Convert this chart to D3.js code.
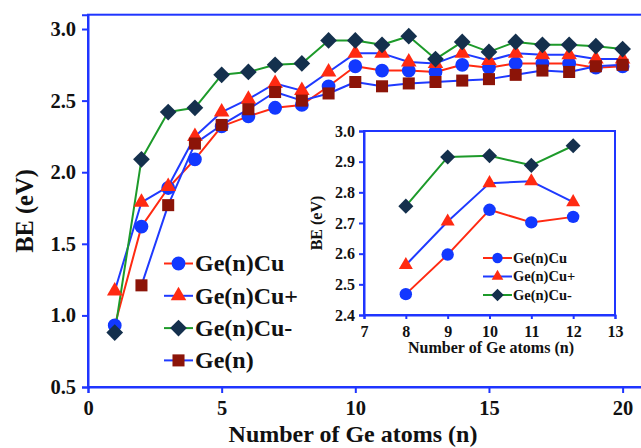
<!DOCTYPE html>
<html>
<head>
<meta charset="utf-8">
<script src="https://cdn.jsdelivr.net/npm/d3@7"></script>
<style>
  html, body { margin: 0; padding: 0; background: #fff; }
  svg { display: block; }
  svg text { font-family: "Liberation Serif", Tinos, "Times New Roman", Times, "DejaVu Serif", serif !important; font-weight: bold; fill: #111; }
</style>
</head>
<body>
<svg id="chart" width="641" height="448"></svg>
<script>
// ---- Binding energies (eV) vs number of Ge atoms ----
const nAll = [1,2,3,4,5,6,7,8,9,10,11,12,13,14,15,16,17,18,19,20];
const geCu      = [0.93,1.62,1.89,2.09,2.32,2.39,2.45,2.47,2.60,2.74,2.71,2.71,2.70,2.75,2.73,2.76,2.76,2.76,2.73,2.74];
const geCuPlus  = [1.17,1.79,1.90,2.25,2.42,2.51,2.62,2.57,2.70,2.83,2.83,2.77,2.76,2.83,2.78,2.83,2.82,2.82,2.79,2.79];
const geCuMinus = [0.88,2.09,2.42,2.45,2.68,2.70,2.75,2.76,2.92,2.92,2.89,2.95,2.79,2.91,2.84,2.91,2.89,2.89,2.88,2.86];
const nGe = [2,3,4,5,6,7,8,9,10,11,12,13,14,15,16,17,18,19,20];
const geN       = [1.21,1.77,2.20,2.33,2.44,2.56,2.50,2.55,2.63,2.60,2.62,2.63,2.64,2.65,2.68,2.71,2.70,2.74,2.75];

// zoomed range n = 8..12
const nInset = [8,9,10,11,12];
const insetGeCu      = [2.468,2.597,2.743,2.702,2.720];
const insetGeCuPlus  = [2.563,2.705,2.830,2.836,2.768];
const insetGeCuMinus = [2.755,2.915,2.919,2.888,2.952];

const mainXTicks = [0,5,10,15,20];
const mainYTicks = [0.5,1.0,1.5,2.0,2.5,3.0];
const insetXTicks = [7,8,9,10,11,12,13];
const insetYTicks = [2.4,2.5,2.6,2.7,2.8,2.9,3.0];

const seriesNames = ["Ge(n)Cu","Ge(n)Cu+","Ge(n)Cu-","Ge(n)"];

// ---- styles ----
const FRAME = "#1f35ff";
const RED = "#ff2a12";
const BLUE_LINE = "#1f3aff";
const BLUE_MARK = "#1238ff";
const GREEN = "#1d9a2a";
const NAVY = "#14304d";
const DARKRED = "#8c1408";
const FONT = '"Liberation Serif", Tinos, "Times New Roman", Times, "DejaVu Serif", serif';

const styles = {
  "Ge(n)Cu":  { line: RED,       fill: BLUE_MARK, shape: "circle" },
  "Ge(n)Cu+": { line: BLUE_LINE, fill: RED,       shape: "triangle" },
  "Ge(n)Cu-": { line: GREEN,     fill: NAVY,      shape: "diamond" },
  "Ge(n)":    { line: BLUE_LINE, fill: DARKRED,   shape: "square" }
};

function markerPath(shape, k) {
  // k scales the marker (1 for the main plot)
  if (shape === "circle")   return d3.symbol(d3.symbolCircle, 150 * k * k)();
  if (shape === "triangle") return d3.symbol(d3.symbolTriangle, 105 * k * k)();
  if (shape === "square")   return d3.symbol(d3.symbolSquare, 145 * k * k)();
  return d3.symbol(d3.symbolSquare, 140 * k * k)();
}
function markerTransform(shape, x, y) {
  return shape === "diamond" ? `translate(${x},${y}) rotate(45)` : `translate(${x},${y})`;
}

const svg = d3.select("#chart");

// ================= main plot =================
const x = d3.scaleLinear().domain([0, 20.8]).range([88, 644]);
const y = d3.scaleLinear().domain([0.5, 3.1]).range([387, 14.7]);

const main = svg.append("g");

// frame
main.append("rect")
  .attr("x", x(0)).attr("y", y(3.1))
  .attr("width", x(20.8) - x(0)).attr("height", y(0.5) - y(3.1))
  .attr("fill", "none").attr("stroke", FRAME).attr("stroke-width", 2);

// axes
const xAxis = d3.axisBottom(x).tickValues(mainXTicks).tickSize(6).tickPadding(7).tickFormat(d3.format("d"));
const yAxis = d3.axisLeft(y).tickValues(mainYTicks).tickSize(6).tickPadding(6).tickFormat(d3.format(".1f"));

function styleAxis(g, size) {
  g.attr("font-family", FONT);
  g.select(".domain").attr("stroke", FRAME).attr("stroke-width", 2);
  g.selectAll(".tick line").attr("stroke", FRAME).attr("stroke-width", 2);
  g.selectAll(".tick text").attr("fill", "#111").style("font-size", size + "px");
}

const gx = main.append("g").attr("transform", `translate(0,${y(0.5)})`).call(xAxis);
const gy = main.append("g").attr("transform", `translate(${x(0)},0)`).call(yAxis);
styleAxis(gx, 20.5);
styleAxis(gy, 20.5);

main.append("text")
  .attr("x", 353).attr("y", 442)
  .attr("text-anchor", "middle").style("font-size", "24px")
  .text("Number of Ge atoms (n)");
main.append("text")
  .attr("transform", "translate(24,211) rotate(-90)")
  .attr("text-anchor", "middle").attr("dominant-baseline", "central").style("font-size", "24.5px")
  .text("BE (eV)");

const mainSeries = [
  { name: "Ge(n)Cu",  xs: nAll, ys: geCu },
  { name: "Ge(n)Cu+", xs: nAll, ys: geCuPlus },
  { name: "Ge(n)",    xs: nGe,  ys: geN },
  { name: "Ge(n)Cu-", xs: nAll, ys: geCuMinus }
];

function drawSeries(g, list, xs, ys, k, lw) {
  const line = d3.line().x(d => xs(d[0])).y(d => ys(d[1]));
  list.forEach(s => {
    const pts = s.xs.map((v, i) => [v, s.ys[i]]);
    g.append("path").datum(pts)
      .attr("d", line).attr("fill", "none")
      .attr("stroke", styles[s.name].line).attr("stroke-width", lw)
      .attr("stroke-linejoin", "round");
  });
  list.forEach(s => {
    const st = styles[s.name];
    const pts = s.xs.map((v, i) => [v, s.ys[i]]);
    g.append("g").selectAll("path").data(pts).join("path")
      .attr("d", markerPath(st.shape, k))
      .attr("transform", d => markerTransform(st.shape, xs(d[0]), ys(d[1])))
      .attr("fill", st.fill);
  });
}
drawSeries(main.append("g"), mainSeries, x, y, 1, 2);

// legend rows: line + marker + label
function drawLegend(g, names, x0, y0, dy, lineLen, k, fontSize, textGap) {
  names.forEach((nm, i) => {
    const st = styles[nm];
    const cy = y0 + i * dy;
    g.append("line")
      .attr("x1", x0).attr("x2", x0 + lineLen).attr("y1", cy).attr("y2", cy)
      .attr("stroke", st.line).attr("stroke-width", 2);
    g.append("path")
      .attr("d", markerPath(st.shape, k))
      .attr("transform", markerTransform(st.shape, x0 + lineLen / 2, cy))
      .attr("fill", st.fill);
    g.append("text")
      .attr("x", x0 + lineLen + textGap).attr("y", cy)
      .attr("dy", "0.33em").style("font-size", fontSize + "px")
      .text(nm);
  });
}
drawLegend(main.append("g"), seriesNames, 164, 263.5, 32.3, 29, 1, 24, 2);

// ================= inset =================
const ix = d3.scaleLinear().domain([7, 13]).range([364, 615]);
const iy = d3.scaleLinear().domain([2.4, 3.0]).range([315, 131]);
const inset = svg.append("g");

inset.append("rect")
  .attr("x", ix(7)).attr("y", iy(3.0))
  .attr("width", ix(13) - ix(7)).attr("height", iy(2.4) - iy(3.0))
  .attr("fill", "#fff").attr("stroke", FRAME).attr("stroke-width", 2);

const ixAxis = d3.axisBottom(ix).tickValues(insetXTicks).tickSize(4).tickPadding(7).tickFormat(d3.format("d"));
const iyAxis = d3.axisLeft(iy).tickValues(insetYTicks).tickSize(5).tickPadding(4).tickFormat(d3.format(".1f"));
const igx = inset.append("g").attr("transform", `translate(0,${iy(2.4)})`).call(ixAxis);
const igy = inset.append("g").attr("transform", `translate(${ix(7)},0)`).call(iyAxis);
styleAxis(igx, 16);
styleAxis(igy, 16);

inset.append("text")
  .attr("x", 491).attr("y", 353)
  .attr("text-anchor", "middle").style("font-size", "16px")
  .text("Number of Ge atoms (n)");
inset.append("text")
  .attr("transform", "translate(316,223) rotate(-90)")
  .attr("text-anchor", "middle").attr("dominant-baseline", "central").style("font-size", "16px")
  .text("BE (eV)");

const insetSeries = [
  { name: "Ge(n)Cu",  xs: nInset, ys: insetGeCu },
  { name: "Ge(n)Cu+", xs: nInset, ys: insetGeCuPlus },
  { name: "Ge(n)Cu-", xs: nInset, ys: insetGeCuMinus }
];
drawSeries(inset.append("g"), insetSeries, ix, iy, 0.9, 2);

drawLegend(inset.append("g"), seriesNames.slice(0, 3), 483, 258, 18.5, 29, 0.75, 14.5, 1);
</script>
</body>
</html>
